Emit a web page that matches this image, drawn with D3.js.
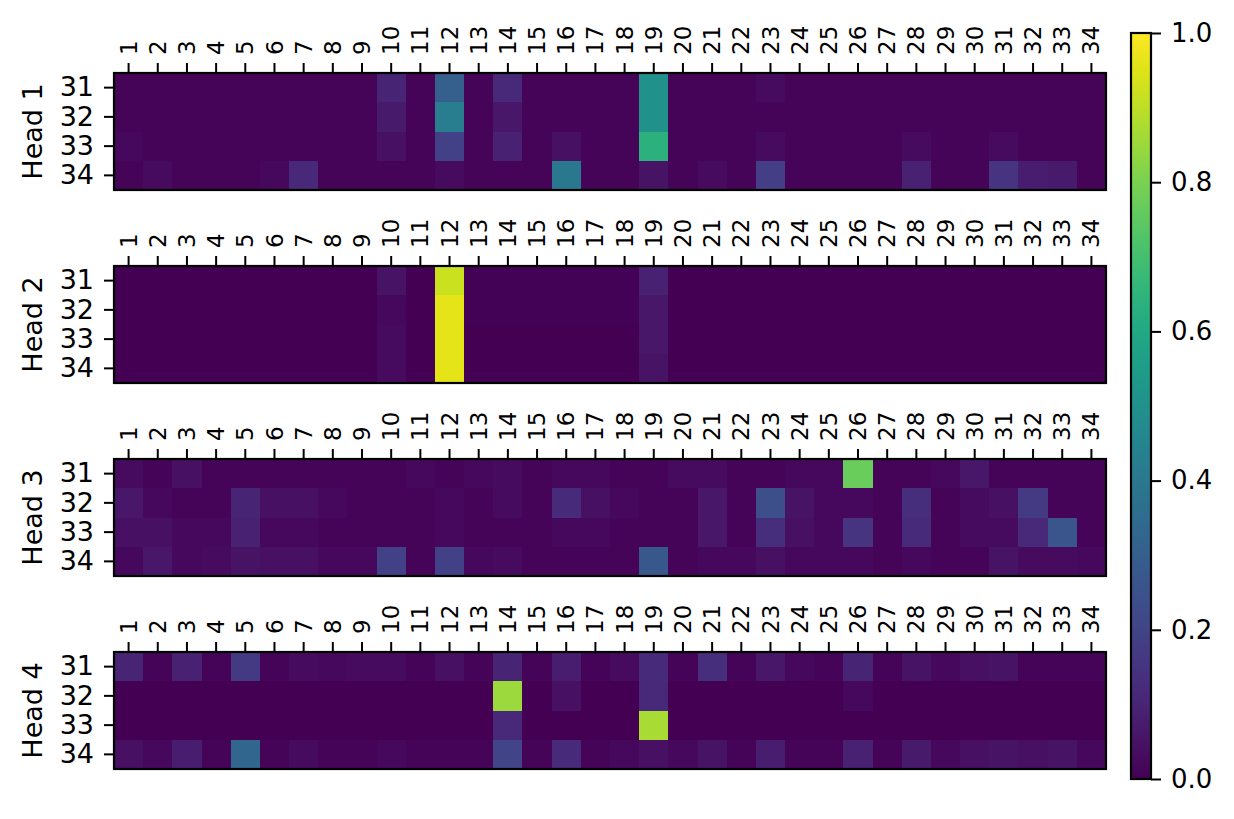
<!DOCTYPE html>
<html>
<head>
<meta charset="utf-8">
<script src="https://cdn.jsdelivr.net/npm/d3@7"></script>
<style>
  body { margin: 0; background: #fff; }
  svg text { font-family: "DejaVu Sans", sans-serif; fill: #000; }
</style>
</head>
<body>
<svg id="chart" width="1234" height="819"></svg>
<script>
// -----------------------------
// Data
// -----------------------------
const columns = d3.range(1, 35);          // 1..34
const rows = [31, 32, 33, 34];
const heads = ["Head 1", "Head 2", "Head 3", "Head 4"];
const colorTicks = [0, 0.2, 0.4, 0.6, 0.8, 1.0];

// each head: 4 rows (31..34) x 34 columns
const head1 = [
  [0.01,0.01,0.01,0.01,0.01,0.01,0.01,0.01,0.01,0.10,0.01,0.30,0.01,0.11,0.01,0.01,0.01,0.01,0.50,0.01,0.01,0.01,0.03,0.01,0.01,0.01,0.01,0.01,0.01,0.01,0.01,0.01,0.01,0.01],
  [0.01,0.01,0.01,0.01,0.01,0.01,0.01,0.01,0.01,0.07,0.01,0.42,0.01,0.06,0.01,0.01,0.01,0.01,0.50,0.01,0.01,0.01,0.01,0.01,0.01,0.01,0.01,0.01,0.01,0.01,0.01,0.01,0.01,0.01],
  [0.02,0.01,0.01,0.01,0.01,0.01,0.01,0.01,0.01,0.04,0.01,0.19,0.01,0.09,0.01,0.04,0.01,0.01,0.64,0.01,0.01,0.01,0.03,0.01,0.01,0.01,0.01,0.03,0.01,0.01,0.03,0.01,0.01,0.01],
  [0.01,0.03,0.01,0.01,0.01,0.02,0.11,0.01,0.01,0.01,0.01,0.03,0.01,0.01,0.01,0.40,0.01,0.01,0.05,0.01,0.03,0.01,0.18,0.01,0.01,0.01,0.01,0.09,0.01,0.01,0.15,0.08,0.07,0.01]
];
const head2 = [
  [0.00,0.00,0.00,0.00,0.00,0.00,0.00,0.00,0.00,0.05,0.00,0.92,0.005,0.005,0.005,0.005,0.005,0.005,0.09,0.00,0.00,0.00,0.00,0.00,0.00,0.00,0.00,0.00,0.00,0.00,0.00,0.00,0.00,0.00],
  [0.00,0.00,0.00,0.00,0.00,0.00,0.00,0.00,0.00,0.02,0.00,0.96,0.005,0.005,0.005,0.005,0.005,0.005,0.06,0.00,0.00,0.00,0.00,0.00,0.00,0.00,0.00,0.00,0.00,0.00,0.00,0.00,0.00,0.00],
  [0.00,0.00,0.00,0.00,0.00,0.00,0.00,0.00,0.00,0.03,0.00,0.96,0.00,0.00,0.00,0.00,0.00,0.00,0.06,0.00,0.00,0.00,0.00,0.00,0.00,0.00,0.00,0.00,0.00,0.00,0.00,0.00,0.00,0.00],
  [0.00,0.00,0.00,0.00,0.00,0.00,0.00,0.00,0.00,0.03,0.00,0.96,0.00,0.00,0.00,0.00,0.00,0.00,0.05,0.00,0.00,0.00,0.00,0.00,0.00,0.00,0.00,0.00,0.00,0.00,0.00,0.00,0.00,0.00]
];
const head3 = [
  [0.03,0.01,0.04,0.01,0.01,0.01,0.01,0.01,0.01,0.01,0.02,0.01,0.02,0.03,0.01,0.02,0.02,0.01,0.01,0.03,0.03,0.01,0.01,0.02,0.02,0.77,0.01,0.01,0.02,0.06,0.01,0.01,0.01,0.01],
  [0.06,0.02,0.01,0.01,0.10,0.04,0.04,0.02,0.01,0.01,0.01,0.02,0.01,0.03,0.01,0.12,0.04,0.02,0.01,0.01,0.06,0.01,0.24,0.05,0.02,0.02,0.01,0.13,0.01,0.03,0.04,0.17,0.01,0.01],
  [0.04,0.04,0.02,0.02,0.09,0.02,0.02,0.01,0.01,0.01,0.01,0.02,0.01,0.01,0.01,0.02,0.02,0.01,0.01,0.01,0.06,0.01,0.13,0.04,0.02,0.15,0.01,0.12,0.01,0.03,0.03,0.11,0.26,0.01],
  [0.02,0.06,0.02,0.03,0.05,0.04,0.04,0.02,0.02,0.19,0.01,0.19,0.02,0.03,0.01,0.01,0.01,0.01,0.27,0.01,0.02,0.02,0.04,0.02,0.02,0.02,0.01,0.02,0.01,0.01,0.05,0.03,0.03,0.02]
];
const head4 = [
  [0.10,0.01,0.09,0.01,0.17,0.01,0.03,0.02,0.03,0.03,0.01,0.04,0.01,0.10,0.01,0.08,0.01,0.03,0.12,0.01,0.13,0.01,0.06,0.02,0.01,0.10,0.01,0.05,0.02,0.04,0.05,0.01,0.01,0.01],
  [0.00,0.00,0.00,0.00,0.00,0.00,0.00,0.00,0.00,0.00,0.00,0.00,0.00,0.85,0.00,0.04,0.00,0.00,0.11,0.00,0.00,0.00,0.00,0.00,0.00,0.02,0.00,0.00,0.00,0.00,0.00,0.00,0.00,0.00],
  [0.00,0.00,0.00,0.00,0.00,0.00,0.00,0.00,0.00,0.00,0.00,0.00,0.00,0.11,0.00,0.00,0.00,0.00,0.87,0.00,0.00,0.00,0.00,0.00,0.00,0.00,0.00,0.00,0.00,0.00,0.00,0.00,0.00,0.00],
  [0.04,0.02,0.08,0.01,0.33,0.01,0.03,0.01,0.01,0.02,0.01,0.01,0.01,0.20,0.01,0.12,0.01,0.02,0.04,0.02,0.05,0.01,0.08,0.01,0.01,0.09,0.01,0.07,0.02,0.04,0.05,0.04,0.05,0.02]
];
const headValues = [head1, head2, head3, head4];

// -----------------------------
// Layout
// -----------------------------
const svg = d3.select("#chart");
const plotLeft = 114, plotRight = 1106;
const plotTops = [73, 266, 459, 652];
const plotH = 117;

const color = d3.scaleSequential(d3.interpolateViridis).domain([0, 1]);

const x = d3.scaleBand().domain(columns).range([plotLeft, plotRight]);

headValues.forEach((values, h) => {
  const top = plotTops[h];
  const y = d3.scaleBand().domain(rows).range([top, top + plotH]);
  const g = svg.append("g");

  const cells = [];
  values.forEach((row, r) => row.forEach((v, c) => cells.push({ row: rows[r], col: columns[c], v })));

  g.selectAll("rect.cell")
    .data(cells)
    .join("rect")
    .attr("class", "cell")
    .attr("x", d => x(d.col))
    .attr("y", d => y(d.row))
    .attr("width", x.bandwidth() + 0.6)
    .attr("height", y.bandwidth() + 0.6)
    .attr("fill", d => color(d.v))
    .attr("shape-rendering", "crispEdges");

  // frame
  g.append("rect")
    .attr("x", plotLeft)
    .attr("y", top)
    .attr("width", plotRight - plotLeft)
    .attr("height", plotH)
    .attr("fill", "none")
    .attr("stroke", "#000")
    .attr("stroke-width", 2.2);

  // top axis
  const xAxis = g.append("g")
    .attr("transform", `translate(0,${top})`)
    .call(d3.axisTop(x).tickSize(10).tickPadding(8));
  xAxis.select(".domain").remove();
  xAxis.selectAll(".tick line").attr("stroke-width", 2);
  xAxis.selectAll(".tick text")
    .attr("transform", "rotate(-90)")
    .attr("x", 18)
    .attr("y", 0)
    .attr("dy", "0.35em")
    .attr("text-anchor", "start")
    .style("font-size", "23px");

  // left axis
  const yAxis = g.append("g")
    .attr("transform", `translate(${plotLeft},0)`)
    .call(d3.axisLeft(y).tickSize(10).tickPadding(10));
  yAxis.select(".domain").remove();
  yAxis.selectAll(".tick line").attr("stroke-width", 2);
  yAxis.selectAll(".tick text").style("font-size", "27px");

  // y label
  g.append("text")
    .attr("transform", `translate(42,${top + plotH / 2}) rotate(-90)`)
    .attr("text-anchor", "middle")
    .style("font-size", "27px")
    .text(heads[h]);
});

// -----------------------------
// Colorbar
// -----------------------------
const cbLeft = 1131, cbW = 20, cbTop = 33, cbBottom = 779;
const cy = d3.scaleLinear().domain([0, 1]).range([cbBottom, cbTop]);

const defs = svg.append("defs");
const grad = defs.append("linearGradient")
  .attr("id", "cb-grad")
  .attr("x1", "0%").attr("x2", "0%")
  .attr("y1", "100%").attr("y2", "0%");
d3.range(0, 1.0001, 0.05).forEach(t => {
  grad.append("stop").attr("offset", `${t * 100}%`).attr("stop-color", color(t));
});

svg.append("rect")
  .attr("x", cbLeft).attr("y", cbTop)
  .attr("width", cbW).attr("height", cbBottom - cbTop)
  .attr("fill", "url(#cb-grad)")
  .attr("stroke", "#000")
  .attr("stroke-width", 2.2);

const cAxis = svg.append("g")
  .attr("transform", `translate(${cbLeft + cbW},0)`)
  .call(d3.axisRight(cy).tickValues(colorTicks).tickFormat(d3.format(".1f")).tickSize(10).tickPadding(10));
cAxis.select(".domain").remove();
cAxis.selectAll(".tick line").attr("stroke-width", 2);
cAxis.selectAll(".tick text").style("font-size", "26px");
</script>
</body>
</html>
